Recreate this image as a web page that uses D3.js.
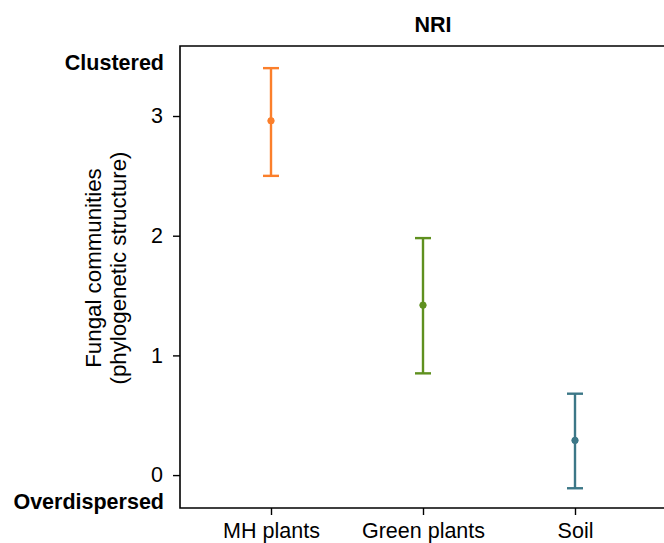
<!DOCTYPE html>
<html><head><meta charset="utf-8">
<script src="https://cdn.jsdelivr.net/npm/d3@7"></script>
<style>body{margin:0;background:#fff;}svg{display:block;font-family:"Liberation Sans",Arial,sans-serif;}</style>
</head><body>
<svg id="c" width="664" height="543"></svg>
<script>
const categories = ["MH plants", "Green plants", "Soil"];
const means = [2.96, 1.42, 0.29];
const lower = [2.50, 0.85, -0.11];
const upper = [3.40, 1.98, 0.68];
const colors = ["#FB7F2B", "#5F901F", "#3C7787"];
const yTicks = [0, 1, 2, 3];

(function () {
const FS = 21.5;
const FF = "Liberation Sans, Arial, sans-serif";
const svg = d3.select("#c");
const mL = 180, mR = 727, mT = 46, mB = 508;
const y = d3.scaleLinear().domain([-0.275, 3.585]).range([mB, mT]);
const x = d3.scalePoint().domain(categories).range([271, 575]);

// frame
svg.append("path").attr("d", `M${mR},${mT}H${mL}V${mB}H${mR}`)
  .attr("fill", "none").attr("stroke", "#000").attr("stroke-width", 1.6);

// y axis
const yAxis = svg.append("g").attr("transform", `translate(${mL},0)`)
  .call(d3.axisLeft(y).tickValues(yTicks).tickFormat(d3.format("d")).tickSize(7).tickPadding(10));
yAxis.select(".domain").remove();
yAxis.selectAll("line").attr("stroke", "#000").attr("stroke-width", 1.4);
yAxis.selectAll("text").attr("font-size", FS).attr("fill", "#000").attr("font-family", FF);

// x axis
const xAxis = svg.append("g").attr("transform", `translate(0,${mB})`)
  .call(d3.axisBottom(x).tickSize(7).tickPadding(8));
xAxis.select(".domain").remove();
xAxis.selectAll("line").attr("stroke", "#000").attr("stroke-width", 1.4);
xAxis.selectAll("text").attr("font-size", FS).attr("fill", "#000").attr("font-family", FF);

// error bars
const g = svg.append("g");
categories.forEach((c, i) => {
  const cx = x(c);
  g.append("line").attr("x1", cx).attr("x2", cx).attr("y1", y(upper[i])).attr("y2", y(lower[i]))
    .attr("stroke", colors[i]).attr("stroke-width", 2.4);
  [upper[i], lower[i]].forEach(v => {
    g.append("line").attr("x1", cx - 8).attr("x2", cx + 8).attr("y1", y(v)).attr("y2", y(v))
      .attr("stroke", colors[i]).attr("stroke-width", 2.4);
  });
  g.append("circle").attr("cx", cx).attr("cy", y(means[i])).attr("r", 3.2)
    .attr("fill", colors[i]).attr("stroke", colors[i]).attr("stroke-width", 1);
});

// title
svg.append("text").attr("x", 433).attr("y", 32).attr("text-anchor", "middle")
  .attr("font-size", FS).attr("font-weight", "bold").text("NRI");

// Clustered / Overdispersed
svg.append("text").attr("x", 164).attr("y", 70).attr("text-anchor", "end")
  .attr("font-size", FS).attr("font-weight", "bold").text("Clustered");
svg.append("text").attr("x", 164).attr("y", 509).attr("text-anchor", "end")
  .attr("font-size", FS).attr("font-weight", "bold").text("Overdispersed");

// y label
const yl = svg.append("text").attr("transform", "translate(0,268) rotate(-90)")
  .attr("text-anchor", "middle").attr("font-size", 22.3);
yl.append("tspan").attr("x", 0).attr("y", 101).text("Fungal communities");
yl.append("tspan").attr("x", 0).attr("y", 126).text("(phylogenetic structure)");
})();
</script>
</body></html>
